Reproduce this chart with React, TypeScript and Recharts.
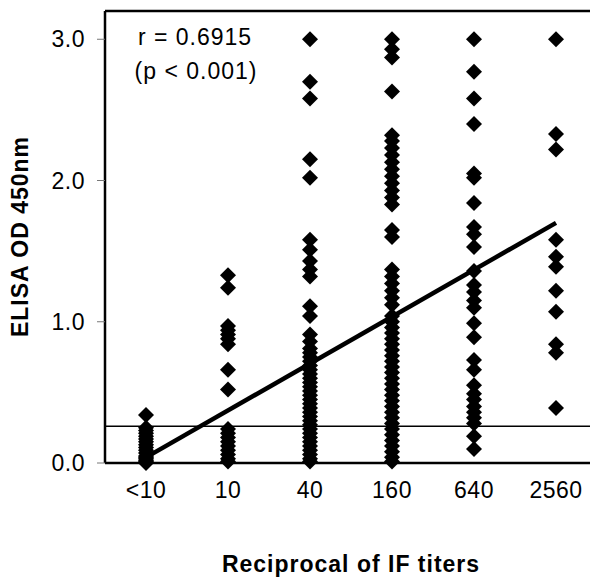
import React from "react";
import {
  ScatterChart,
  Scatter,
  XAxis,
  YAxis,
  ReferenceLine,
} from "recharts";

// Category labels (reciprocal IF titers)
const titerLabels = ["<10", "10", "40", "160", "640", "2560"];
const yTicks = [0, 1, 2, 3];

// ELISA OD 450nm values per titer group
const odLt10 = [0.34, 0.25, 0.23, 0.21, 0.19, 0.17, 0.15, 0.13, 0.11, 0.09, 0.07, 0.05, 0.04, 0.03, 0.02, 0.01, 0.0];
const od10 = [1.33, 1.24, 0.97, 0.94, 0.91, 0.88, 0.84, 0.66, 0.52, 0.24, 0.21, 0.18, 0.15, 0.12, 0.09, 0.06, 0.03, 0.01];
const od40 = [3.0, 2.7, 2.58, 2.15, 2.02, 1.58, 1.51, 1.43, 1.37, 1.32, 1.11, 1.04, 0.91, 0.86, 0.81, 0.78, 0.75, 0.72, 0.69, 0.66, 0.63, 0.6, 0.57, 0.54, 0.51, 0.48, 0.45, 0.42, 0.39, 0.36, 0.33, 0.3, 0.27, 0.24, 0.21, 0.18, 0.15, 0.12, 0.09, 0.06, 0.03, 0.01];
const od160 = [3.0, 2.93, 2.87, 2.63, 2.32, 2.28, 2.23, 2.18, 2.13, 2.08, 2.03, 1.98, 1.93, 1.88, 1.83, 1.65, 1.6, 1.37, 1.32, 1.27, 1.22, 1.17, 1.12, 1.04, 1.0, 0.96, 0.92, 0.88, 0.84, 0.8, 0.76, 0.72, 0.68, 0.64, 0.6, 0.56, 0.52, 0.48, 0.44, 0.4, 0.36, 0.32, 0.28, 0.24, 0.2, 0.16, 0.12, 0.08, 0.04, 0.01];
const od640 = [3.0, 2.77, 2.58, 2.4, 2.05, 2.02, 1.84, 1.67, 1.62, 1.53, 1.36, 1.26, 1.21, 1.15, 1.1, 0.99, 0.89, 0.73, 0.66, 0.55, 0.49, 0.45, 0.4, 0.36, 0.32, 0.28, 0.19, 0.1];
const od2560 = [3.0, 2.33, 2.22, 1.58, 1.46, 1.39, 1.22, 1.07, 0.84, 0.78, 0.39];

const groups = [odLt10, od10, od40, od160, od640, od2560];

// Regression line endpoints (at "<10" and "2560")
const regressionY = [0.04, 1.7];
const cutoff = 0.26;

const points = groups.flatMap((g, i) => g.map((y) => ({ x: i, y })));
const regression = [
  { x: 0, y: regressionY[0] },
  { x: titerLabels.length - 1, y: regressionY[1] },
];

const FONT = "'Liberation Sans', Arial, Helvetica, sans-serif";

const Diamond = (props: any) => {
  const { cx, cy } = props;
  if (cx == null || cy == null) return <g />;
  const r = 8;
  return (
    <polygon
      points={`${cx},${cy - r} ${cx + r},${cy} ${cx},${cy + r} ${cx - r},${cy}`}
      fill="#000"
    />
  );
};

const NoShape = () => <g />;

export default function App() {
  const W = 590;
  const H = 571;
  return (
    <div style={{ position: "relative", width: W, height: H }}>
      <ScatterChart
        width={W}
        height={H}
        margin={{ top: 3, right: 1, bottom: 76, left: 0 }}
      >
        <XAxis
          type="number"
          dataKey="x"
          domain={[-0.5, 5.5]}
          ticks={[0, 1, 2, 3, 4, 5]}
          tickFormatter={(v: number) => titerLabels[v]}
          height={40}
          tickLine={false}
          tickSize={0}
          tickMargin={19}
          axisLine={{ stroke: "#000", strokeWidth: 2.5 }}
          tick={{ fill: "#000", fontSize: 23, fontFamily: FONT, letterSpacing: 0.5 }}
          interval={0}
        />
        <YAxis
          type="number"
          dataKey="y"
          domain={[0, 3.2]}
          ticks={yTicks}
          tickFormatter={(v: number) => v.toFixed(1)}
          width={97}
          tickSize={8}
          tickMargin={12}
          tickLine={{ stroke: "#777", strokeWidth: 1 }}
          axisLine={{ stroke: "#000", strokeWidth: 2.5 }}
          tick={{ fill: "#000", fontSize: 23, fontFamily: FONT, letterSpacing: 0.5 }}
          interval={0}
        />
        <ReferenceLine y={cutoff} stroke="#000" strokeWidth={1.5} />
        <Scatter
          data={points}
          shape={Diamond}
          isAnimationActive={false}
        />
        <Scatter
          data={regression}
          shape={NoShape}
          line={{ stroke: "#000", strokeWidth: 4.5 }}
          isAnimationActive={false}
        />
        <ReferenceLine y={3.2} stroke="#000" strokeWidth={2.5} />
        <ReferenceLine x={5.5} stroke="#000" strokeWidth={2} />
      </ScatterChart>
      <svg
        width={W}
        height={H}
        style={{ position: "absolute", left: 0, top: 0, pointerEvents: "none" }}
      >
        <text
          x={187}
          y={37}
          textAnchor="middle"
          fontFamily={FONT}
          fontSize={23}
          letterSpacing={1}
          fill="#000"
        >
          r = 0.6915
        </text>
        <text
          x={188}
          y={71}
          textAnchor="middle"
          fontFamily={FONT}
          fontSize={23}
          letterSpacing={1}
          fill="#000"
        >
          (p &lt; 0.001)
        </text>
        <text
          x={343}
          y={564}
          textAnchor="middle"
          fontFamily={FONT}
          fontSize={23}
          fontWeight="bold"
          letterSpacing={1}
          fill="#000"
        >
          Reciprocal of IF titers
        </text>
        <text
          x={20}
          y={228.5}
          textAnchor="middle"
          fontFamily={FONT}
          fontSize={23}
          fontWeight="bold"
          letterSpacing={1}
          fill="#000"
          transform="rotate(-90, 20, 228.5)"
        >
          ELISA OD 450nm
        </text>
      </svg>
    </div>
  );
}
